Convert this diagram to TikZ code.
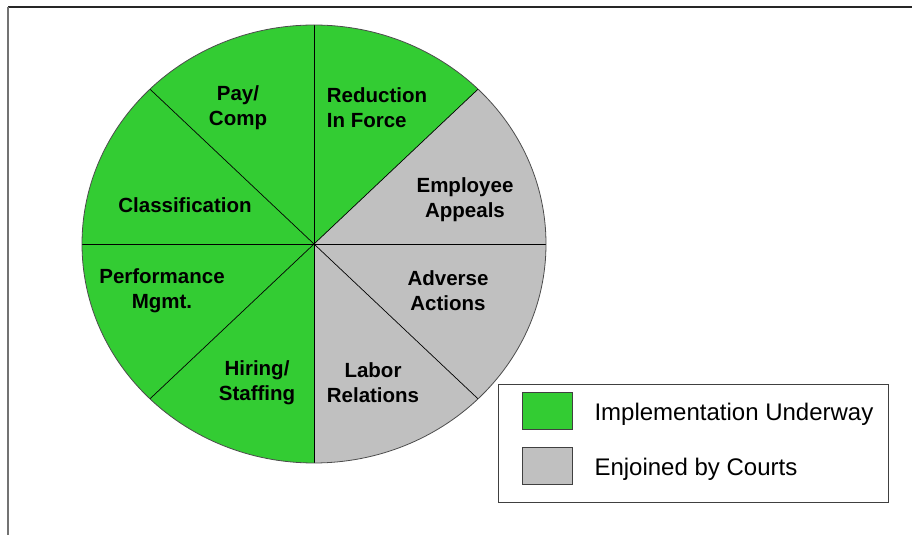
\documentclass[tikz,border=0pt]{standalone}
\usepackage{fontspec}
\setmainfont{Liberation Sans}
\definecolor{implgreen}{RGB}{51,204,51}
\definecolor{courtgray}{RGB}{192,192,192}
\tikzset{
    slicetext/.style={font=\fontsize{20.5}{25}\selectfont\bfseries, align=center},
    keytext/.style={font=\fontsize{24}{28}\selectfont, anchor=west},
    swatch/.style={draw=black!75, line width=0.8pt}
}

\begin{document}
\begin{tikzpicture}[x=1pt, y=1pt]
    \useasboundingbox (0, 0) rectangle (912, 535);
    % frame
    \draw[line width=2pt, black!85] (8, 528) -- (912, 528);
    \draw[line width=1.5pt, black!55] (8, 528) -- (8, 0);
    % pie
    \coordinate (c) at (314, 291);
    \foreach \a/\col in {0/courtgray, 45/implgreen, 90/implgreen, 135/implgreen,
                         180/implgreen, 225/implgreen, 270/courtgray, 315/courtgray}
        \fill[\col] (c) -- ++(\a:232 and 219)
            arc[start angle=\a, delta angle=45, x radius=232, y radius=219] -- cycle;
    \foreach \a in {0, 45, ..., 315}
        \draw[line width=0.7pt] (c) -- ++(\a:232 and 219);
    \draw[line width=0.8pt, black!70] (c) ellipse [x radius=232, y radius=219];
    \node[slicetext] (pay) at (238, 427) {Pay/\\Comp};
    \node[slicetext, align=left] (rif) at (377, 427) {Reduction\\In Force};
    \node[slicetext] (appeals) at (465, 335) {Employee\\Appeals};
    \node[slicetext] (classif) at (185, 330) {Classification};
    \node[slicetext] (perf) at (162, 244) {Performance\\Mgmt.};
    \node[slicetext] (adverse) at (448, 244) {Adverse\\Actions};
    \node[slicetext] (hiring) at (257, 152) {Hiring/\\Staffing};
    \node[slicetext] (labor) at (373, 152) {Labor\\Relations};
    % legend
    \draw[line width=0.8pt, black!75] (498, 151) rectangle (888, 33);
    \draw[swatch, fill=implgreen] (522, 143) rectangle (572, 106);
    \draw[swatch, fill=courtgray] (522, 88) rectangle (572, 51);
    \node[keytext] (underway) at (591, 121) {Implementation Underway};
    \node[keytext] (enjoined) at (591, 66) {Enjoined by Courts};
\end{tikzpicture}
\end{document}
